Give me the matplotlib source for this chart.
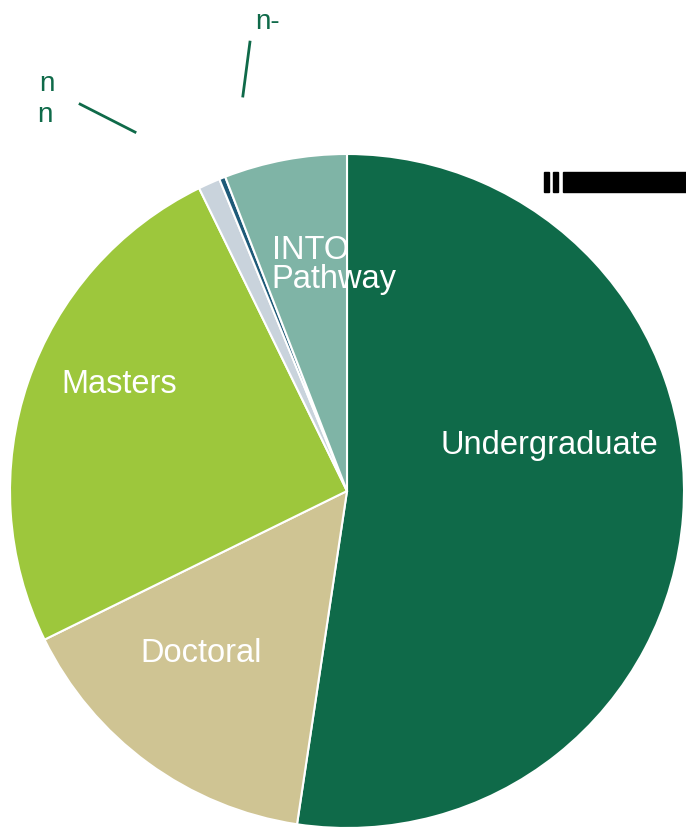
import matplotlib.pyplot as plt
from matplotlib.patches import Rectangle

plt.rcParams['font.family'] = ['Liberation Sans', 'DejaVu Sans']

categories = ['Undergraduate', 'Doctoral', 'Masters', 'Other', 'Other 2', 'INTO Pathway']
shares = [52.5, 15.4, 25.1, 1.05, 0.3, 5.9]
colors = ['#0f6a49', '#cfc493', '#9dc73c', '#c9d3dc', '#1e5a78', '#7fb4a6']
labels = ['Undergraduate', 'Doctoral', 'Masters', '', '', 'INTO\nPathway']

fig = plt.figure(figsize=(6.86, 8.28), dpi=100)
ax = fig.add_axes([10 / 686, -1 / 828, 674 / 686, 674 / 828])

wedges, _ = ax.pie(shares, colors=colors, startangle=90, counterclock=False,
                   radius=1, center=(0, 0), frame=True,
                   wedgeprops=dict(edgecolor='white', linewidth=1.5))
ax.set_xlim(-1, 1)
ax.set_ylim(-1, 1)
ax.axis('off')

# label positions inside the slices
fs = 23.5
ax.text(0.602, 0.139, labels[0], color='white', fontsize=fs, ha='center', va='center')
ax.text(-0.433, -0.478, labels[1], color='white', fontsize=fs, ha='center', va='center')
ax.text(-0.677, 0.320, labels[2], color='white', fontsize=fs, ha='center', va='center')
ax.text(-0.223, 0.674, labels[5], color='white', fontsize=fs, ha='left', va='center',
        linespacing=0.92)

# broken outside labels with leader lines
green = '#0f6a49'
ax.text(-0.890, 1.211, 'n', color=green, fontsize=20, ha='center', va='center', clip_on=False)
ax.text(-0.896, 1.119, 'n', color=green, fontsize=20, ha='center', va='center', clip_on=False)
ax.text(-0.236, 1.395, 'n-', color=green, fontsize=20, ha='center', va='center', clip_on=False)
ax.plot([-0.792, -0.629], [1.148, 1.065], color=green, lw=2, clip_on=False)
ax.plot([-0.288, -0.309], [1.332, 1.172], color=green, lw=2, clip_on=False)

# black bar artifact at top right
fig.patches.append(Rectangle((563 / 686, 1 - 193 / 828), 123 / 686, 20 / 828,
                             transform=fig.transFigure, color='black'))
fig.patches.append(Rectangle((544 / 686, 1 - 193 / 828), 5 / 686, 20 / 828,
                             transform=fig.transFigure, color='black'))
fig.patches.append(Rectangle((553 / 686, 1 - 193 / 828), 5 / 686, 20 / 828,
                             transform=fig.transFigure, color='black'))

fig.savefig('out.png', dpi=100)
